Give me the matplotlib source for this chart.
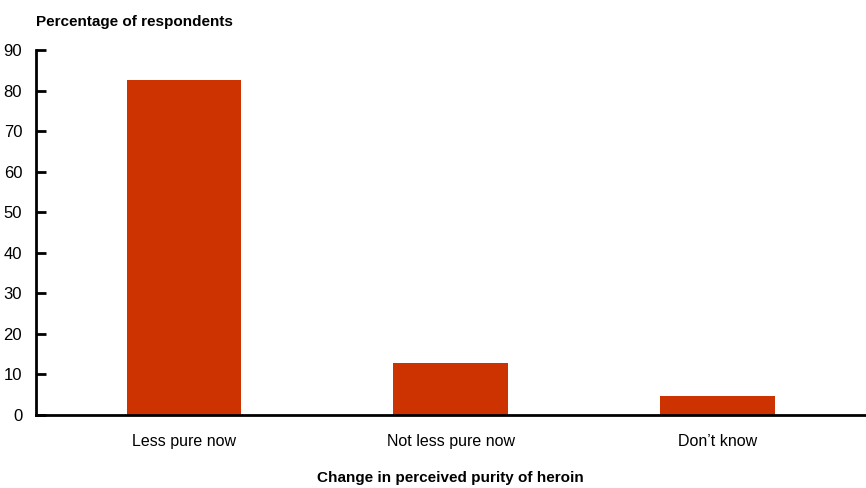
import matplotlib.pyplot as plt

categories = ['Less pure now', 'Not less pure now', 'Don\u2019t know']
values = [82.5, 12.8, 4.8]
yticks = [0, 10, 20, 30, 40, 50, 60, 70, 80, 90]

plt.rcParams['font.family'] = ['Liberation Sans', 'DejaVu Sans']

fig = plt.figure(figsize=(8.66, 4.88), dpi=100)
ax = fig.add_axes([0.0416, 0.1496, 0.958, 0.748])

ax.bar(range(len(categories)), values, width=0.43, color='#cc3300')
ax.set_xlim(-0.555, 2.555)
ax.set_ylim(0, 90)
ax.set_yticks(yticks)
ax.set_xticks(range(len(categories)))
ax.set_xticklabels(categories, fontsize=11.5)

ax.spines['top'].set_visible(False)
ax.spines['right'].set_visible(False)
ax.spines['left'].set_linewidth(2)
ax.spines['bottom'].set_linewidth(2)
ax.tick_params(axis='y', direction='in', length=7, width=2, labelsize=12, pad=10)
ax.tick_params(axis='x', length=0, pad=14)

fig.text(0.0416, 0.955, 'Percentage of respondents', fontsize=11, fontweight='bold', ha='left', va='center')
fig.text(0.52, 0.02, 'Change in perceived purity of heroin', fontsize=11, fontweight='bold', ha='center', va='center')

fig.savefig('out.png')
